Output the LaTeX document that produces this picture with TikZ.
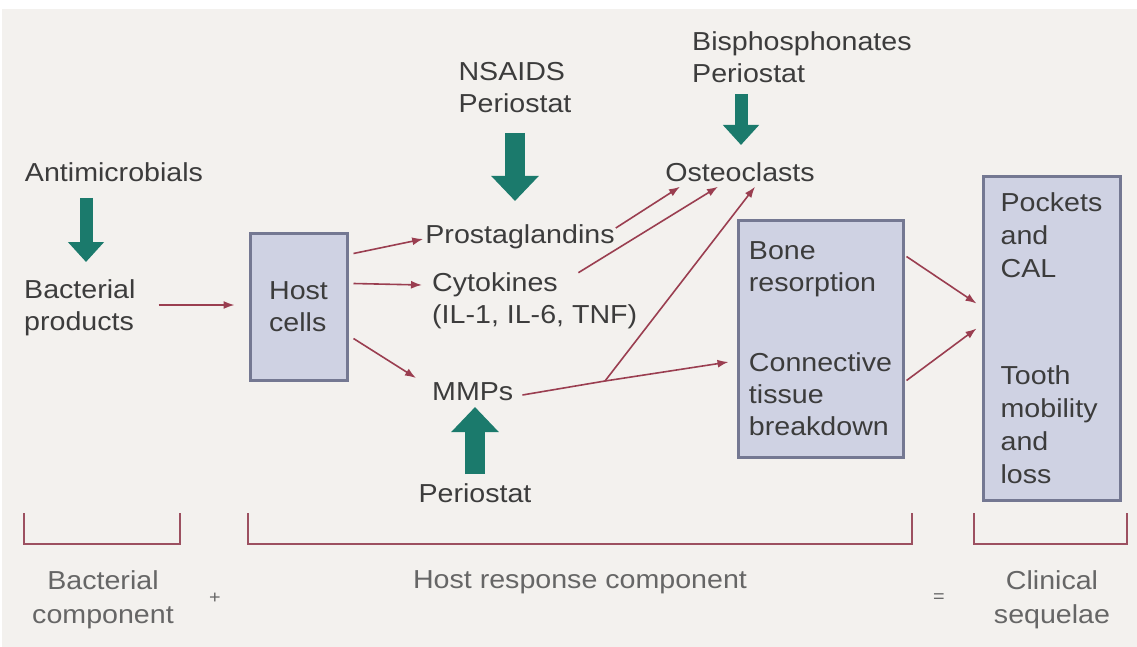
\documentclass[tikz,border=0pt]{standalone}
\usepackage{fontspec}
\setmainfont{Liberation Sans}[FakeStretch=1.1]
\usetikzlibrary{arrows.meta,calc}
\definecolor{bg}{HTML}{F3F1EE}
\definecolor{txt}{HTML}{3C3C3C}
\definecolor{lighttxt}{HTML}{666666}
\definecolor{teal}{HTML}{1B7A6C}
\definecolor{redline}{HTML}{9A3E50}
\definecolor{boxfill}{HTML}{CFD2E3}
\definecolor{boxdraw}{HTML}{747892}
\definecolor{brk}{HTML}{9C5060}
\tikzset{
  lbl/.style={inner sep=1pt, text=txt, font=\fontsize{26}{32}\selectfont, align=left},
  botlbl/.style={inner sep=1pt, text=lighttxt, font=\fontsize{26}{34}\selectfont, align=center},
  boxnode/.style={draw=boxdraw, line width=3pt, fill=boxfill, inner sep=0pt, text=txt,
    font=\fontsize{26}{32}\selectfont, align=left},
  redarrow/.style={draw=redline, line width=1.6pt, -{Latex[length=11pt,width=8pt]}},
  bigarrow/.style={draw=teal, line width=20pt, -{Triangle[width=46pt,length=25pt]}},
  smallarrow/.style={draw=teal, line width=13pt, -{Triangle[width=35pt,length=20pt]}},
  bracketline/.style={draw=brk, line width=2pt},
}
\begin{document}
\begin{tikzpicture}[x=1pt,y=-1pt]
\useasboundingbox (0,0) rectangle (1137,647);
\fill[white] (0,0) rectangle (1137,647);
\fill[bg] (2,9) rectangle (1137,647);

% boxes
\node[boxnode, minimum width=97pt, minimum height=147pt] (host) at (298.5,306.5) {Host\\cells};
\node[boxnode, minimum width=165pt, minimum height=237pt] (bone) at (820.5,338.5)
  {Bone\\resorption\\[48pt]Connective\\tissue\\breakdown};
\node[boxnode, minimum width=137pt, minimum height=323pt] (clin) at (1051.5,338.5)
  {Pockets\\[1pt]and\\[1pt]CAL\\[75pt]Tooth\\[1pt]mobility\\[1pt]and\\[1pt]loss};

% labels
\node[lbl] (anti) at (114,172) {Antimicrobials};
\node[lbl, anchor=west] (bact) at (23,308) {Bacterial\\products};
\node[lbl] (nsaids) at (515,88) {NSAIDS\\Periostat};
\node[lbl, anchor=west] (bis) at (691,57) {Bisphosphonates\\Periostat};
\node[lbl] (osteo) at (740,172) {Osteoclasts};
\node[lbl] (prost) at (520,237) {Prostaglandins};
\node[lbl, anchor=west] (cyt) at (431,301) {Cytokines\\(IL-1, IL-6, TNF)};
\node[lbl, anchor=west] (mmps) at (431,392) {MMPs};
\node[lbl] (perio) at (475,493) {Periostat};

% green arrows
\draw[smallarrow] (86,198) -- (86,262);
\draw[bigarrow] (515,133) -- (515,201);
\draw[smallarrow] (741,94) -- (741,145);
\draw[bigarrow] (475,474) -- (475,407);

% red arrows
\draw[redarrow] ([xshift=22pt,yshift=3pt]bact.east) -- ([xshift=-14pt,yshift=1.5pt]host.west);
\draw[redarrow] ([yshift=-22pt]host.north east) ++(5pt,0) -- ([xshift=-1pt,yshift=-2pt]prost.west);
\draw[redarrow] ([yshift=-52pt]host.north east) ++(5pt,0) -- ([xshift=-9pt,yshift=16pt]cyt.west);
\draw[redarrow] ([yshift=-107pt]host.north east) ++(5pt,0) -- ([xshift=-15pt,yshift=14pt]mmps.west);

\draw[redarrow] ([yshift=9pt]prost.east) -- ([xshift=-60pt,yshift=-4pt]osteo.south);
\draw[redarrow] ([xshift=-60pt,yshift=-1pt]cyt.north east) coordinate (c0) -- ([xshift=-22pt,yshift=-4pt]osteo.south);
\coordinate (j) at (605,381);
\draw[redline, line width=1.6pt] ([xshift=8pt,yshift=-3pt]mmps.east) -- (j);
\draw[redarrow] (j) -- ([xshift=-8pt,yshift=-23.5pt]bone.west);
\draw[redarrow] (j) -- ([xshift=15pt,yshift=-4pt]osteo.south);

\draw[redarrow] ([yshift=-38pt,xshift=2pt]bone.north east) -- ([xshift=-5pt,yshift=-128pt]clin.north west);
\draw[redarrow] ([yshift=78pt,xshift=2pt]bone.south east) -- ([xshift=-5pt,yshift=-153pt]clin.north west);

% brackets
\draw[bracketline] (24,513) -- (24,544) -- (180,544) -- (180,513);
\draw[bracketline] (248,513) -- (248,544) -- (912,544) -- (912,513);
\draw[bracketline] (974,513) -- (974,544) -- (1127,544) -- (1127,513);

% bottom labels
\node[botlbl] (bc) at (103,600) {Bacterial\\component};
\node[botlbl, font=\fontsize{18}{20}\selectfont] (plus) at (215,598) {+};
\node[botlbl] (hrc) at (580,582) {Host response component};
\node[botlbl, font=\fontsize{18}{20}\selectfont] (eq) at (939,598) {=};
\node[botlbl] (cs) at (1052,600) {Clinical\\sequelae};
\end{tikzpicture}
\end{document}
